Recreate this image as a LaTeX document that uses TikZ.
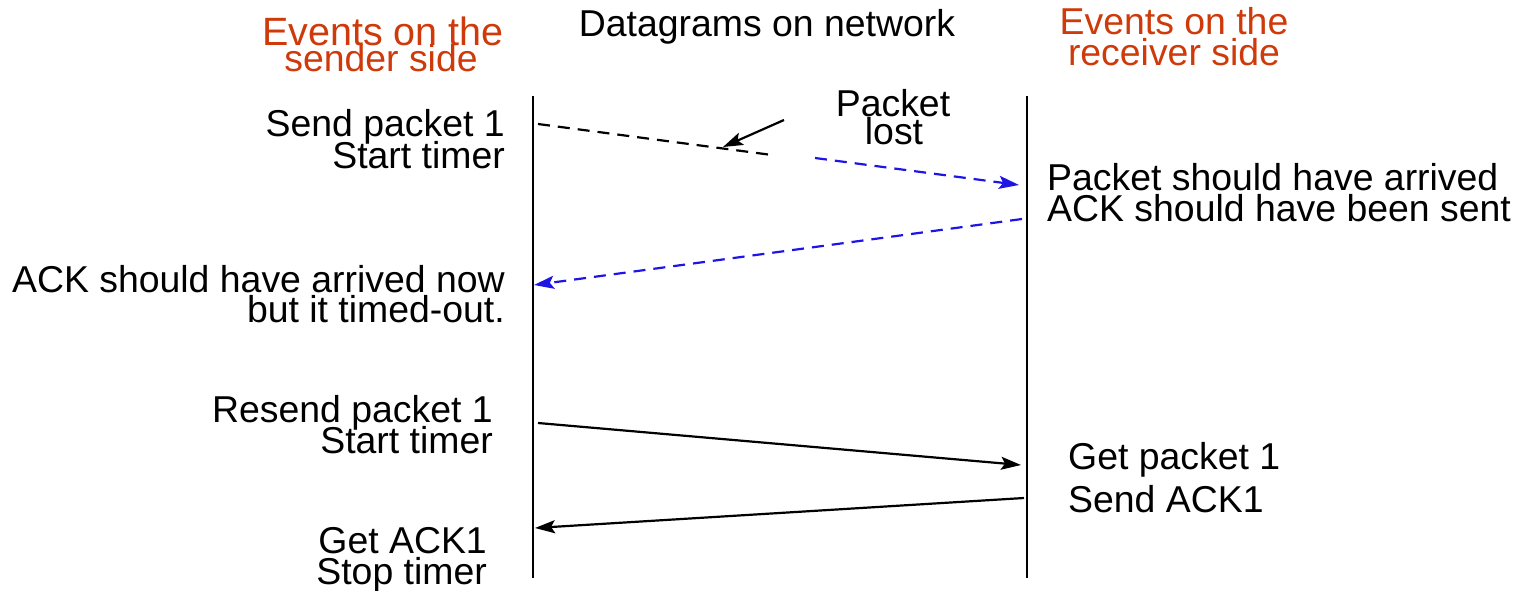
\documentclass[tikz,border=0pt]{standalone}
\usepackage{fontspec}
\setmainfont{Liberation Sans}
\usetikzlibrary{arrows.meta}
\definecolor{headred}{RGB}{206,58,10}
\definecolor{lostblue}{RGB}{30,20,230}
\tikzset{
  txt/.style={inner sep=0pt, font=\fontsize{37.4}{31}\selectfont},
  head/.style={txt, text=headred},
  bighead/.style={head, font=\fontsize{39.5}{31}\selectfont},
  life/.style={line width=2.4pt},
  tip/.style={-{Stealth[length=20pt,width=13pt,inset=4pt]}},
  msg/.style={line width=2.2pt, tip},
  dashmsg/.style={line width=2.2pt, dash pattern=on 12pt off 8pt},
}
\begin{document}
\begin{tikzpicture}[x=1pt,y=-1pt]
\useasboundingbox (0,0) rectangle (1527,591);

% column headers
\node[bighead, anchor=base] (sh1) at (383,46) {Events on the};
\node[head, anchor=base] (sh2) at (381,72) {sender side};
\node[txt, anchor=base] (net) at (767,37) {Datagrams on network};
\node[head, anchor=base] (rh1) at (1174,35) {Events on the};
\node[head, anchor=base] (rh2) at (1174,66) {receiver side};

% lifelines
\coordinate (stop) at (533,96);
\coordinate (sbot) at (533,578);
\coordinate (rtop) at (1027,96);
\coordinate (rbot) at (1027,578);
\draw[life] (stop) -- (sbot);
\draw[life] (rtop) -- (rbot);

% sender-side events
\node[txt, anchor=base east] (s1a) at (505,137) {Send packet 1};
\node[txt, anchor=base east] (s1b) at (505,168) {Start timer};
\node[txt, anchor=base east] (s2a) at (505,292) {ACK should have arrived now};
\node[txt, anchor=base east] (s2b) at (505,322) {but it timed-out.};
\node[txt, anchor=base east] (s3a) at (493,422) {Resend packet 1};
\node[txt, anchor=base east] (s3b) at (493,453) {Start timer};
\node[txt, anchor=base east] (s4a) at (487,553) {Get ACK1};
\node[txt, anchor=base east] (s4b) at (487,584) {Stop timer};

% receiver-side events
\node[txt, anchor=base west] (r1a) at (1047,190) {Packet should have arrived};
\node[txt, anchor=base west] (r1b) at (1047,222) {ACK should have been sent};
\node[txt, anchor=base west] (r2a) at (1068,469) {Get packet 1};
\node[txt, anchor=base west] (r2b) at (1068,512) {Send ACK1};

% loss annotation
\node[txt, anchor=base] (lost1) at (893,117) {Packet};
\node[txt, anchor=base] (lost2) at (894,145) {lost};

% first transmission, lost on the way
\coordinate (p1s) at (538,124);
\coordinate (p1x) at (772,155);
\coordinate (p1g) at (815,158);
\coordinate (p1r) at (1019,185);
\draw[dashmsg] (p1s) -- (p1x);
\draw[dashmsg, draw=lostblue, tip] (p1g) -- (p1r);
\coordinate (lostfrom) at (784,120);
\coordinate (lostto) at (723,147);
\draw[msg] (lostfrom) -- (lostto);

% expected acknowledgement that never came
\coordinate (a1r) at (1022,219);
\coordinate (a1s) at (534,285);
\draw[dashmsg, draw=lostblue, tip] (a1r) -- (a1s);

% retransmission and its acknowledgement
\coordinate (p2s) at (538,423);
\coordinate (p2r) at (1021,465);
\draw[msg] (p2s) -- (p2r);
\coordinate (a2r) at (1024,498);
\coordinate (a2s) at (535,528);
\draw[msg] (a2r) -- (a2s);
\end{tikzpicture}
\end{document}
